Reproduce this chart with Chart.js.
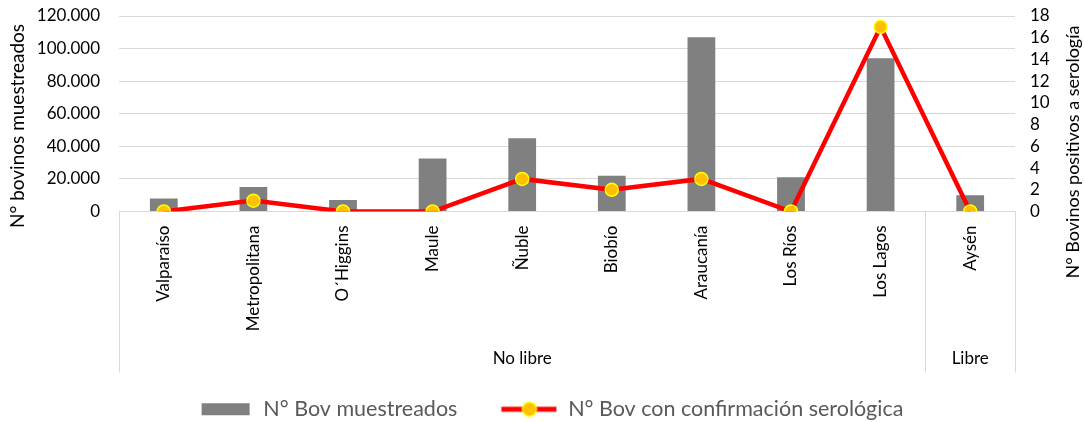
<!DOCTYPE html>
<html>
<head>
<meta charset="utf-8">
<script src="https://cdn.jsdelivr.net/npm/chart.js@4"></script>
<style>
  html, body { margin: 0; padding: 0; background: #fff; }
  #wrap { width: 1084px; height: 422px; }
</style>
</head>
<body>
<div id="wrap"><canvas id="chart"></canvas></div>
<script>
// Datos
const regiones = ['Valparaíso', 'Metropolitana', 'O´Higgins', 'Maule', 'Ñuble', 'Biobío', 'Araucanía', 'Los Ríos', 'Los Lagos', 'Aysén'];
const bovMuestreados = [8000, 15000, 7000, 32500, 45000, 22000, 107000, 21000, 94000, 10000];
const bovPositivos = [0, 1, 0, 0, 3, 2, 3, 0, 17, 0];
const grupos = ['No libre', 'Libre'];
const gruposTamano = [9, 1];

const FONT = 'Lato, "Open Sans", sans-serif';

// separador de miles con punto
const fmtMiles = v => String(v).replace(/\B(?=(\d{3})+(?!\d))/g, '.');

// iconos de la leyenda (mismo ancho, contenido alineado a la derecha)
const ICONO_W = 100;
function iconoBarra() {
  const c = document.createElement('canvas');
  c.width = ICONO_W; c.height = 14;
  const ctx = c.getContext('2d');
  ctx.fillStyle = '#808080';
  ctx.fillRect(ICONO_W - 51, 1, 48, 12);
  return c;
}
function iconoLinea() {
  const c = document.createElement('canvas');
  c.width = ICONO_W; c.height = 20;
  const ctx = c.getContext('2d');
  ctx.strokeStyle = '#FF0000';
  ctx.lineWidth = 5;
  ctx.beginPath(); ctx.moveTo(ICONO_W - 56, 10); ctx.lineTo(ICONO_W - 1, 10); ctx.stroke();
  ctx.beginPath(); ctx.arc(ICONO_W - 28, 10, 7, 0, Math.PI * 2);
  ctx.fillStyle = '#FFC000'; ctx.fill();
  ctx.lineWidth = 1.5; ctx.strokeStyle = '#FFFF00'; ctx.stroke();
  return c;
}

// grupos del eje X y títulos de ejes
const gruposPlugin = {
  id: 'grupos',
  afterDraw(chart) {
    const { ctx, chartArea, scales: { x } } = chart;
    const fondo = chartArea.bottom + 161;
    const paso = x.width / regiones.length;
    ctx.save();
    ctx.strokeStyle = '#d9d9d9';
    ctx.lineWidth = 1;
    let idx = 0;
    const bordes = [x.left];
    grupos.forEach((g, i) => {
      const ini = x.left + idx * paso;
      idx += gruposTamano[i];
      const fin = x.left + idx * paso;
      bordes.push(fin);
      ctx.fillStyle = '#000';
      ctx.font = '17px ' + FONT;
      ctx.textAlign = 'center';
      ctx.textBaseline = 'middle';
      ctx.fillText(g, (ini + fin) / 2, fondo - 14);
    });
    bordes.forEach(bx => {
      ctx.beginPath();
      ctx.moveTo(Math.round(bx) + 0.5, chartArea.bottom);
      ctx.lineTo(Math.round(bx) + 0.5, fondo);
      ctx.stroke();
    });

    ctx.fillStyle = '#000';
    ctx.font = '19px ' + FONT;
    ctx.textAlign = 'center';
    ctx.textBaseline = 'middle';
    ctx.translate(18, 126);
    ctx.rotate(-Math.PI / 2);
    ctx.fillText('N° bovinos muestreados', 0, 0);
    ctx.restore();

    ctx.save();
    ctx.fillStyle = '#000';
    ctx.font = '18px ' + FONT;
    ctx.textAlign = 'center';
    ctx.textBaseline = 'middle';
    ctx.translate(1073, 152);
    ctx.rotate(-Math.PI / 2);
    ctx.fillText('N° Bovinos positivos a serología', 0, 0);
    ctx.restore();
  }
};

new Chart(document.getElementById('chart'), {
  type: 'bar',
  data: {
    labels: regiones,
    datasets: [
      {
        type: 'bar',
        label: 'N° Bov muestreados',
        data: bovMuestreados,
        backgroundColor: '#808080',
        yAxisID: 'y',
        categoryPercentage: 1,
        barPercentage: 0.31,
        order: 1
      },
      {
        type: 'line',
        label: 'N° Bov con confirmación serológica',
        data: bovPositivos,
        borderColor: '#FF0000',
        borderWidth: 4.5,
        pointRadius: 6.5,
        pointBackgroundColor: '#FFC000',
        pointBorderColor: '#FFFF00',
        pointBorderWidth: 1.5,
        tension: 0,
        yAxisID: 'y1',
        order: 0
      }
    ]
  },
  options: {
    responsive: true,
    maintainAspectRatio: false,
    animation: false,
    layout: { padding: { left: 0, right: 28, top: 0, bottom: -8 } },
    scales: {
      x: {
        grid: { display: false },
        border: { color: '#d9d9d9' },
        ticks: {
          minRotation: 90, maxRotation: 90, autoSkip: false, padding: 6,
          color: '#000', font: { family: FONT, size: 17 }
        },
        afterFit(scale) { scale.height = 187; }
      },
      y: {
        position: 'left',
        min: 0, max: 120000,
        grid: { color: '#d9d9d9', drawTicks: false },
        border: { display: false },
        ticks: {
          stepSize: 20000, padding: 19, color: '#000',
          font: { family: FONT, size: 17 },
          callback: v => fmtMiles(v)
        },
        afterFit(scale) { scale.width = 119; scale.paddingTop = 16; scale.paddingBottom = 0; }
      },
      y1: {
        position: 'right',
        min: 0, max: 18,
        grid: { drawOnChartArea: false, drawTicks: false },
        border: { display: false },
        ticks: {
          stepSize: 2, padding: 15, color: '#000', autoSkip: false,
          font: { family: FONT, size: 17 }
        },
        afterFit(scale) { scale.width = 41; scale.paddingTop = 16; scale.paddingBottom = 0; }
      }
    },
    plugins: {
      tooltip: { enabled: false },
      legend: {
        position: 'bottom',
        labels: {
          usePointStyle: true,
          pointStyleWidth: ICONO_W,
          boxHeight: 18,
          padding: 0,
          color: '#595959',
          font: { family: FONT, size: 21.5, lineHeight: 1 },
          sort: (a, b) => a.datasetIndex - b.datasetIndex,
          generateLabels(chart) {
            const items = Chart.defaults.plugins.legend.labels.generateLabels(chart);
            items.forEach(it => {
              it.pointStyle = it.datasetIndex === 0 ? iconoBarra() : iconoLinea();
            });
            return items;
          }
        }
      }
    }
  },
  plugins: [gruposPlugin]
});
</script>
</body>
</html>
